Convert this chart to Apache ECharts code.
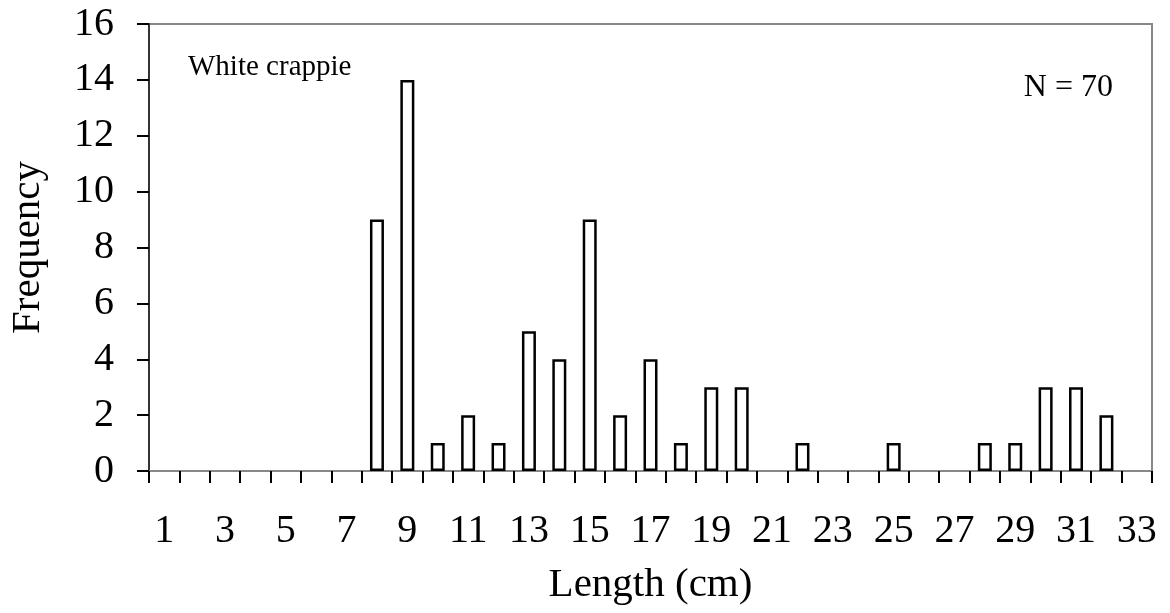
<!DOCTYPE html>
<html>
<head>
<meta charset="utf-8">
<script src="https://cdn.jsdelivr.net/npm/echarts@6/dist/echarts.min.js"></script>
<style>
  html, body { margin: 0; padding: 0; background: #fff; }
  #chart { width: 1170px; height: 613px; }
</style>
</head>
<body>
<div id="chart"></div>
<script>
// length classes (cm) and counts
const lengths = [1, 2, 3, 4, 5, 6, 7, 8, 9, 10, 11, 12, 13, 14, 15, 16, 17,
  18, 19, 20, 21, 22, 23, 24, 25, 26, 27, 28, 29, 30, 31, 32, 33];
const counts = [0, 0, 0, 0, 0, 0, 0, 9, 14, 1, 2, 1, 5, 4, 9, 2, 4,
  1, 3, 3, 0, 1, 0, 0, 1, 0, 0, 1, 1, 3, 3, 2, 0];
const speciesLabel = 'White crappie';
const sampleLabel = 'N = 70';

const serif = '"Liberation Serif", "Times New Roman", serif';
const chart = echarts.init(document.getElementById('chart'));

// empty classes have no bar drawn in the figure
const barData = counts.map((v) => (v === 0 ? '-' : v));

const opt = {
  animation: false,
  grid: {
    left: 148,
    right: 18,
    top: 24,
    bottom: 142,
    show: true,
    borderColor: '#888',
    borderWidth: 2
  },
  xAxis: {
    type: 'category',
    data: lengths,
    boundaryGap: true,
    name: 'Length (cm)',
    nameLocation: 'middle',
    nameGap: 94,
    nameTextStyle: { fontFamily: serif, fontSize: 41, color: '#000' },
    axisLine: { lineStyle: { color: '#888', width: 2 } },
    axisTick: { show: true, interval: 0, length: 12, lineStyle: { color: '#000', width: 2 } },
    axisLabel: {
      interval: 1,
      margin: 40,
      fontFamily: serif,
      fontSize: 40,
      color: '#000'
    },
    splitLine: { show: false }
  },
  yAxis: {
    type: 'value',
    min: 0,
    max: 16,
    interval: 2,
    name: 'Frequency',
    nameLocation: 'middle',
    nameGap: 100,
    nameTextStyle: { fontFamily: serif, fontSize: 41, color: '#000' },
    axisLine: { show: true, lineStyle: { color: '#333', width: 2 } },
    axisTick: { show: true, length: 12, lineStyle: { color: '#000', width: 2 } },
    axisLabel: {
      margin: 35,
      fontFamily: serif,
      fontSize: 40,
      color: '#000'
    },
    splitLine: { show: false }
  },
  graphic: [
    {
      type: 'text',
      left: 188,
      top: 53,
      style: { text: speciesLabel, font: '29px ' + serif, fill: '#000' }
    },
    {
      type: 'text',
      right: 57,
      top: 72,
      style: { text: sampleLabel, font: '32px ' + serif, fill: '#000' }
    }
  ],
  series: [
    {
      type: 'bar',
      data: barData,
      barWidth: '46%',
      itemStyle: { color: '#fff', borderColor: '#000', borderWidth: 2.5 }
    }
  ]
};

chart.setOption(opt);
</script>
</body>
</html>
